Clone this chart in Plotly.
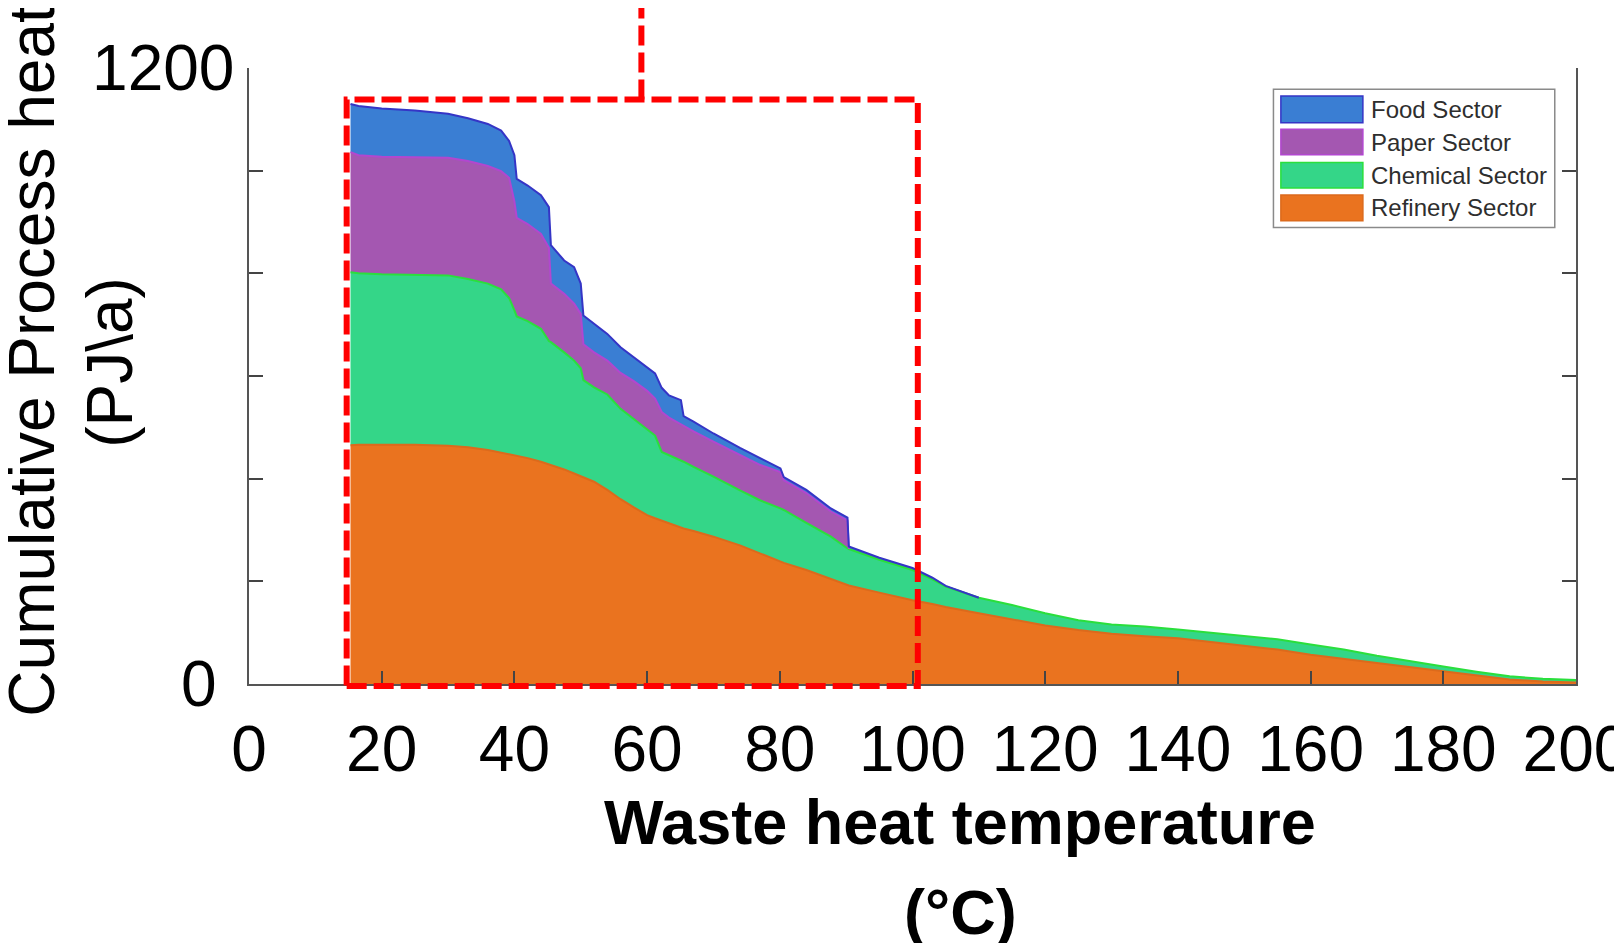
import numpy as np
import plotly.graph_objects as go

# ---------------- data ----------------
temperature = [15.3, 16.5, 20, 25, 30, 33, 36, 38, 39.2, 40, 40.35, 42, 44, 45.2, 45.5,
               47.5, 49, 50.0, 50.4, 52, 54, 56, 58, 60, 61.2, 62.2, 63.3, 65.1, 65.5,
               67, 70, 74, 77, 80.1, 80.6, 84, 87.7, 90.2, 90.4, 95, 100, 103, 105,
               110, 115, 120, 125, 130, 135, 140, 145, 150, 155, 160, 165, 170, 175,
               180, 185, 190, 195, 200]

refinery = [465, 466, 466, 466, 464, 461, 456, 451, 447, 445, 444, 440, 433, 428, 427,
            418, 410, 405, 403, 394, 378, 360, 344, 329, 323, 318, 313, 305, 303,
            298, 287, 270, 254, 238, 236, 222, 205, 193, 192, 178, 163, 156, 150,
            138, 126, 114, 105, 98, 93, 89, 82, 75, 67, 57, 49, 42, 34,
            25, 17, 9, 5, 3]

chemical = [337, 334, 332, 331, 332, 328, 324, 318, 305, 283, 272, 267, 259, 240, 239,
            228, 220, 210, 189, 184, 186, 176, 172, 167, 161, 134, 133, 131, 130,
            125, 117, 107, 104, 104, 103, 92, 82, 71, 71, 64, 59, 48, 40,
            30, 28, 24, 19, 18, 19, 17, 18, 18, 20, 20, 18, 13, 10,
            9, 7, 6, 5, 5]

paper = [234, 230, 229, 229, 229, 230, 229, 230, 234, 212, 192, 189, 185, 182, 114,
         114, 111, 106, 70, 68, 66, 70, 74, 75, 72, 78, 73, 70, 70,
         69, 68, 69, 69, 71, 58, 58, 49, 55, 0, 0, 0, 0, 0,
         0, 0, 0, 0, 0, 0, 0, 0, 0, 0, 0, 0, 0, 0,
         0, 0, 0, 0, 0]

food = [94, 96, 94, 91, 86, 83, 82, 79, 72, 90, 76, 75, 75, 79, 75,
        65, 71, 59, 56, 56, 52, 50, 47, 47, 49, 47, 43, 47, 19,
        19, 16, 14, 14, 7, 6, 6, 6, 5, 5, 4, 4, 3, 1,
        0, 0, 0, 0, 0, 0, 0, 0, 0, 0, 0, 0, 0, 0,
        0, 0, 0, 0, 0]

sector_names = ["Refinery Sector", "Chemical Sector", "Paper Sector", "Food Sector"]
legend_order = ["Food Sector", "Paper Sector", "Chemical Sector", "Refinery Sector"]
x_ticks = [0, 20, 40, 60, 80, 100, 120, 140, 160, 180, 200]
y_ticks = [0, 200, 400, 600, 800, 1000, 1200]
y_ticktext = ["0&nbsp;", "", "", "", "", "", "1200"]

# ---------------- styles ----------------
fill_colors = {"Refinery Sector": "#ea731f", "Chemical Sector": "#34d688",
               "Paper Sector": "#a457b1", "Food Sector": "#3a7ed3"}
edge_colors = {"Refinery Sector": "#dc6a1c", "Chemical Sector": "#2adf3c",
               "Paper Sector": "#b247cf", "Food Sector": "#3535c6"}
FONT = "Liberation Sans, Arial, sans-serif"

series = [refinery, chemical, paper, food]

fig = go.Figure()
for name, vals in zip(sector_names, series):
    fig.add_trace(go.Scatter(
        x=temperature, y=vals, name=name, stackgroup="stack", mode="lines",
        line=dict(width=0, color=fill_colors[name]), fillcolor=fill_colors[name],
        showlegend=False))

# outlines on top of each layer (only where the sector is present)
cum = np.zeros(len(temperature))
for name, vals in zip(sector_names, series):
    v = np.array(vals, dtype=float)
    cum = cum + v
    prev = np.concatenate([[0.0], v[:-1]])
    keep = (v > 0) | (prev > 0)
    y_line = [c if k else None for c, k in zip(cum, keep)]
    fig.add_trace(go.Scatter(
        x=temperature, y=y_line, mode="lines", showlegend=False, hoverinfo="skip",
        line=dict(width=2, color=edge_colors[name]), connectgaps=False))

shapes = []
annotations = []

# manual legend
L_x0, L_x1, L_y0, L_y1 = 0.772, 0.984, 0.741, 0.9655
shapes.append(dict(type="rect", xref="paper", yref="paper", x0=L_x0, x1=L_x1, y0=L_y0, y1=L_y1,
                   line=dict(color="#8a8a8a", width=1.5), fillcolor="white", layer="above"))
sw_y = [(0.9113, 0.9546), (0.859, 0.9006), (0.805, 0.8465), (0.752, 0.7937)]
for name, (a, b) in zip(legend_order, sw_y):
    shapes.append(dict(type="rect", xref="paper", yref="paper", x0=0.7776, x1=0.8394, y0=a, y1=b,
                       line=dict(color=edge_colors[name], width=1.5), fillcolor=fill_colors[name]))
    annotations.append(dict(text=name, xref="paper", yref="paper", x=0.844, y=(a + b) / 2,
                            xanchor="left", yanchor="middle", showarrow=False,
                            font=dict(family=FONT, size=24, color="#2e2e2e")))

# red dashed highlight box
red = dict(color="#ff0000", width=6, dash="20px,7px")
shapes.append(dict(type="rect", xref="paper", yref="paper", x0=0.0736, x1=0.504,
                   y0=-0.0032, y1=0.949, line=red, fillcolor="rgba(0,0,0,0)"))
shapes.append(dict(type="line", xref="paper", yref="paper", x0=0.2957, x1=0.2957,
                   y0=0.949, y1=1.12, line=red))

# axis titles
annotations += [
    dict(text="<b>Waste heat temperature</b>", xref="paper", yref="paper", x=0.536, y=-0.224,
         xanchor="center", yanchor="middle", showarrow=False,
         font=dict(family=FONT, size=63, color="black")),
    dict(text="<b>(°C)</b>", xref="paper", yref="paper", x=0.536, y=-0.37,
         xanchor="center", yanchor="middle", showarrow=False,
         font=dict(family=FONT, size=63, color="black")),
    dict(text="Cumulative Process heat", xref="paper", yref="paper", x=-0.1635, y=0.525,
         textangle=-90, xanchor="center", yanchor="middle", showarrow=False,
         font=dict(family=FONT, size=64, color="black")),
    dict(text="(PJ\\a)", xref="paper", yref="paper", x=-0.1045, y=0.522,
         textangle=-90, xanchor="center", yanchor="middle", showarrow=False,
         font=dict(family=FONT, size=64, color="black")),
]

# the page body adds an 8px offset, so margins are shifted to keep the plot box in place
fig.update_layout(
    width=1622, height=943,
    margin=dict(l=241, r=54, t=60, b=267, autoexpand=False),
    paper_bgcolor="white", plot_bgcolor="white",
    shapes=shapes, annotations=annotations,
    showlegend=False,
    font=dict(family=FONT, color="black"),
)
fig.update_xaxes(range=[0, 200], tickvals=x_ticks, ticks="inside", ticklen=13, tickwidth=1.5,
                 tickcolor="#444", showline=True, linecolor="#555", linewidth=1.5,
                 showgrid=False, zeroline=False, ticklabelstandoff=8,
                 ticklabeloverflow="allow", automargin=False,
                 tickfont=dict(family=FONT, size=64, color="black"))
fig.update_yaxes(range=[0, 1200], tickvals=y_ticks, ticktext=y_ticktext, ticks="inside",
                 ticklen=14, tickwidth=1.5, tickcolor="#444", showline=True, linecolor="#555",
                 linewidth=1.5, mirror="ticks", showgrid=False, zeroline=False,
                 automargin=False,
                 tickfont=dict(family=FONT, size=64, color="black"))

fig.write_html("out.html")
